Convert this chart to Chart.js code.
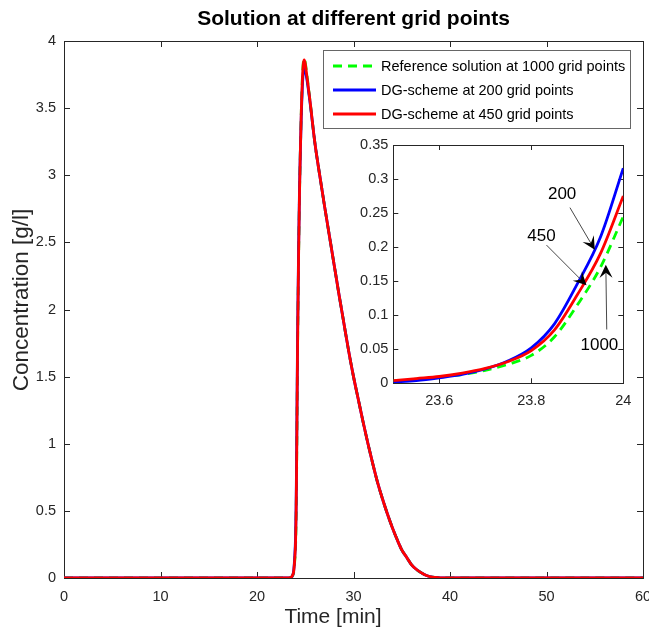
<!DOCTYPE html>
<html>
<head>
<meta charset="utf-8">
<script src="https://cdn.jsdelivr.net/npm/chart.js@4.4.1/dist/chart.umd.min.js"></script>
<style>
  html, body { margin: 0; padding: 0; background: #fff; }
  #wrap { position: relative; width: 649px; height: 627px; }
  #main { position: absolute; left: 0; top: 0; }
  #inset { position: absolute; left: 345px; top: 130px; }
</style>
</head>
<body>
<div id="wrap">
  <canvas id="main" width="649" height="627"></canvas>
  <canvas id="inset" width="290" height="290"></canvas>
</div>
<script>
// ---- data ----
var mainTime = [0, 23, 23.5, 23.6, 23.7, 23.8, 23.9, 24.0, 24.05, 24.1, 24.15, 24.2, 24.3, 24.4, 24.5,
    24.6, 24.7, 24.8, 24.9, 25.0, 25.2, 25.5,
    26.0, 26.5, 27.0, 27.5, 28.0, 28.5, 29.0, 29.5, 30.0,
    30.5, 31.0, 31.5, 32.0, 32.5, 33.0, 33.5, 34.0, 34.5, 35.0,
    35.5, 36.0, 36.5, 37.0, 37.5, 38.0, 38.5, 39.0, 40, 60];

var ref1000 = [0, 0, 0.003, 0.009, 0.019, 0.041, 0.115, 0.245, 0.43, 0.75, 1.2, 1.65, 2.32, 2.83, 3.2,
    3.5, 3.72, 3.84, 3.87, 3.84, 3.73, 3.55,
    3.24, 3.00, 2.77, 2.55, 2.33, 2.11, 1.90, 1.69, 1.50,
    1.33, 1.16, 1.00, 0.85, 0.71, 0.59, 0.48, 0.38, 0.29, 0.21,
    0.155, 0.10, 0.065, 0.04, 0.02, 0.009, 0.004, 0.001, 0, 0];

var dg200 = [0, 0, 0.002, 0.008, 0.021, 0.052, 0.146, 0.316, 0.52, 0.87, 1.32, 1.77, 2.4, 2.88, 3.2,
    3.47, 3.66, 3.77, 3.80, 3.78, 3.70, 3.54,
    3.24, 3.00, 2.77, 2.55, 2.33, 2.11, 1.90, 1.69, 1.50,
    1.33, 1.16, 1.00, 0.85, 0.71, 0.59, 0.48, 0.38, 0.29, 0.21,
    0.155, 0.10, 0.065, 0.04, 0.02, 0.009, 0.004, 0.001, 0, 0];

var dg450 = [0, 0, 0.004, 0.010, 0.022, 0.048, 0.130, 0.275, 0.47, 0.8, 1.25, 1.7, 2.35, 2.85, 3.2,
    3.5, 3.71, 3.83, 3.86, 3.83, 3.72, 3.55,
    3.24, 3.00, 2.77, 2.55, 2.33, 2.11, 1.90, 1.69, 1.50,
    1.33, 1.16, 1.00, 0.85, 0.71, 0.59, 0.48, 0.38, 0.29, 0.21,
    0.155, 0.10, 0.065, 0.04, 0.02, 0.009, 0.004, 0.001, 0, 0];

var zoomTime = [23.5, 23.55, 23.6, 23.65, 23.7, 23.75, 23.8, 23.85, 23.9, 23.95, 24.0];
var zoomRef1000 = [0.003, 0.006, 0.009, 0.013, 0.019, 0.028, 0.041, 0.068, 0.115, 0.170, 0.245];
var zoomDg200 = [0.002, 0.004, 0.008, 0.013, 0.021, 0.033, 0.052, 0.087, 0.146, 0.214, 0.316];
var zoomDg450 = [0.004, 0.007, 0.010, 0.015, 0.022, 0.032, 0.048, 0.078, 0.130, 0.190, 0.275];

var seriesLabels = ['Reference solution at 1000 grid points', 'DG-scheme at 200 grid points', 'DG-scheme at 450 grid points'];

var mainXTicks = [0, 10, 20, 30, 40, 50, 60];
var mainYTicks = [0, 0.5, 1, 1.5, 2, 2.5, 3, 3.5, 4];
var zoomXTicks = [23.6, 23.8, 24];
var zoomYTicks = [0, 0.05, 0.1, 0.15, 0.2, 0.25, 0.3, 0.35];

// annotation arrows in the inset, in data units
var arrowLabels = ['200', '450', '1000'];
var arrowTail = [[23.884, 0.258], [23.833, 0.203], [23.964, 0.079]];
var arrowHead = [[23.938, 0.196], [23.920, 0.144], [23.962, 0.174]];
var arrowText = [[23.867, 0.277], [23.822, 0.216], [23.948, 0.056]];

var FONT = '"Liberation Sans", Arial, Helvetica, sans-serif';
var AXIS = '#262626';

Chart.defaults.font.family = FONT;
Chart.defaults.color = AXIS;

function toPoints(xs, ys) {
    return xs.map(function (x, i) { return {x: x, y: ys[i]}; });
}

function makeDatasets(xs, a, b, c) {
    return [{
        label: seriesLabels[0], data: toPoints(xs, a), borderColor: '#00ff00',
        borderWidth: 2.8, borderDash: [9, 6], order: 3
    }, {
        label: seriesLabels[1], data: toPoints(xs, b), borderColor: '#0000ff',
        borderWidth: 2.8, order: 2
    }, {
        label: seriesLabels[2], data: toPoints(xs, c), borderColor: '#ff0000',
        borderWidth: 2.8, order: 1
    }];
}

function fixedTicks(values) {
    return function (scale) {
        scale.ticks = values.map(function (v) { return {value: v}; });
    };
}

// MATLAB-like box with inward ticks on all four sides
function boxPlugin(len, whiteFill) {
    return {
        id: 'box',
        beforeDatasetsDraw: function (chart) {
            var ctx = chart.ctx, a = chart.chartArea;
            var x = chart.scales.x, y = chart.scales.y;
            ctx.save();
            if (whiteFill) {
                ctx.fillStyle = '#fff';
                ctx.fillRect(a.left, a.top, a.right - a.left, a.bottom - a.top);
            }
            ctx.strokeStyle = AXIS;
            ctx.lineWidth = 1;
            ctx.beginPath();
            x.ticks.forEach(function (t) {
                var px = Math.round(x.getPixelForValue(t.value)) + 0.5;
                ctx.moveTo(px, a.bottom); ctx.lineTo(px, a.bottom - len);
                ctx.moveTo(px, a.top); ctx.lineTo(px, a.top + len);
            });
            y.ticks.forEach(function (t) {
                var py = Math.round(y.getPixelForValue(t.value)) + 0.5;
                ctx.moveTo(a.left, py); ctx.lineTo(a.left + len, py);
                ctx.moveTo(a.right, py); ctx.lineTo(a.right - len, py);
            });
            ctx.stroke();
            ctx.strokeRect(Math.round(a.left) + 0.5, Math.round(a.top) + 0.5,
                Math.round(a.right - a.left), Math.round(a.bottom - a.top));
            ctx.restore();
        }
    };
}

function titleAndLegendPlugin() {
    return {
        id: 'titleLegend',
        afterDraw: function (chart) {
            var ctx = chart.ctx, a = chart.chartArea;
            ctx.save();
            ctx.fillStyle = '#000';
            ctx.font = 'bold 21px ' + FONT;
            ctx.textAlign = 'center';
            ctx.textBaseline = 'middle';
            ctx.fillText('Solution at different grid points', (a.left + a.right) / 2, 19);

            // axis labels (placed as in the figure, slightly off-centre)
            ctx.fillStyle = AXIS;
            ctx.font = '21px ' + FONT;
            ctx.fillText('Time [min]', 333, 617);
            ctx.save();
            ctx.translate(22, 300);
            ctx.rotate(-Math.PI / 2);
            ctx.font = '22.5px ' + FONT;
            ctx.fillText('Concentration [g/l]', 0, 0);
            ctx.restore();

            // legend box
            ctx.fillStyle = '#fff';
            ctx.fillRect(323, 50, 307, 78);
            ctx.strokeStyle = '#666';
            ctx.lineWidth = 1;
            ctx.strokeRect(323.5, 50.5, 307, 78);

            ctx.font = '14.5px ' + FONT;
            ctx.textAlign = 'left';
            chart.data.datasets.forEach(function (ds, i) {
                var ly = 66 + i * 24;
                ctx.beginPath();
                ctx.strokeStyle = ds.borderColor;
                ctx.lineWidth = ds.borderWidth;
                ctx.setLineDash(ds.borderDash || []);
                ctx.moveTo(333, ly);
                ctx.lineTo(376, ly);
                ctx.stroke();
                ctx.setLineDash([]);
                ctx.fillStyle = '#000';
                ctx.fillText(ds.label, 381, ly + 1);
            });
            ctx.restore();
        }
    };
}

function arrowPlugin() {
    return {
        id: 'arrows',
        afterDatasetsDraw: function (chart) {
            var ctx = chart.ctx, x = chart.scales.x, y = chart.scales.y;
            ctx.save();
            arrowLabels.forEach(function (txt, i) {
                var x0 = x.getPixelForValue(arrowTail[i][0]), y0 = y.getPixelForValue(arrowTail[i][1]);
                var x1 = x.getPixelForValue(arrowHead[i][0]), y1 = y.getPixelForValue(arrowHead[i][1]);
                var ang = Math.atan2(y1 - y0, x1 - x0);
                var cos = Math.cos(ang), sin = Math.sin(ang);
                var L = 13, W = 6.5;
                ctx.strokeStyle = '#333';
                ctx.lineWidth = 0.9;
                ctx.beginPath();
                ctx.moveTo(x0, y0);
                ctx.lineTo(x1 - cos * L * 0.6, y1 - sin * L * 0.6);
                ctx.stroke();

                ctx.fillStyle = '#000';
                ctx.beginPath();
                ctx.moveTo(x1, y1);
                ctx.lineTo(x1 - cos * L - sin * W, y1 - sin * L + cos * W);
                ctx.lineTo(x1 - cos * L * 0.6, y1 - sin * L * 0.6);
                ctx.lineTo(x1 - cos * L + sin * W, y1 - sin * L - cos * W);
                ctx.closePath();
                ctx.fill();

                ctx.font = '17px ' + FONT;
                ctx.textAlign = 'center';
                ctx.textBaseline = 'middle';
                ctx.fillText(txt, x.getPixelForValue(arrowText[i][0]), y.getPixelForValue(arrowText[i][1]));
            });
            ctx.restore();
        }
    };
}

var label = function (v) { return String(v); };

new Chart(document.getElementById('main'), {
    type: 'line',
    data: {datasets: makeDatasets(mainTime, ref1000, dg200, dg450)},
    options: {
        responsive: false,
        animation: false,
        layout: {padding: {top: 41, right: 6, left: 0, bottom: 0}},
        elements: {point: {radius: 0}, line: {cubicInterpolationMode: 'monotone'}},
        plugins: {legend: {display: false}, tooltip: {enabled: false}, title: {display: false}},
        scales: {
            x: {
                type: 'linear', min: 0, max: 60,
                afterBuildTicks: fixedTicks(mainXTicks),
                afterFit: function (s) { s.height = 49; s.paddingLeft = 0; s.paddingRight = 0; },
                grid: {display: false, drawTicks: false, tickLength: 0},
                border: {display: false},
                ticks: {padding: 10, font: {size: 14.5}, color: AXIS, callback: label, maxRotation: 0}
            },
            y: {
                type: 'linear', min: 0, max: 4,
                afterBuildTicks: fixedTicks(mainYTicks),
                afterFit: function (s) { s.width = 64; s.paddingTop = 0; s.paddingBottom = 0; },
                grid: {display: false, drawTicks: false, tickLength: 0},
                border: {display: false},
                ticks: {padding: 8, font: {size: 14.5}, color: AXIS, callback: label}
            }
        }
    },
    plugins: [boxPlugin(6, false), titleAndLegendPlugin()]
});

new Chart(document.getElementById('inset'), {
    type: 'line',
    data: {datasets: makeDatasets(zoomTime, zoomRef1000, zoomDg200, zoomDg450)},
    options: {
        responsive: false,
        animation: false,
        layout: {padding: {top: 15, right: 11.7, left: 0, bottom: 0}},
        elements: {point: {radius: 0}, line: {cubicInterpolationMode: 'monotone'}},
        plugins: {legend: {display: false}, tooltip: {enabled: false}},
        scales: {
            x: {
                type: 'linear', min: 23.5, max: 24,
                afterBuildTicks: fixedTicks(zoomXTicks),
                afterFit: function (s) { s.height = 36.7; s.paddingLeft = 0; s.paddingRight = 0; },
                grid: {display: false, drawTicks: false, tickLength: 0},
                border: {display: false},
                ticks: {padding: 9, font: {size: 14.5}, color: AXIS, callback: label, maxRotation: 0}
            },
            y: {
                type: 'linear', min: 0, max: 0.35,
                afterBuildTicks: fixedTicks(zoomYTicks),
                afterFit: function (s) { s.width = 48.3; s.paddingTop = 0; s.paddingBottom = 0; },
                grid: {display: false, drawTicks: false, tickLength: 0},
                border: {display: false},
                ticks: {padding: 5, font: {size: 14.5}, color: AXIS, callback: label}
            }
        }
    },
    plugins: [boxPlugin(5, true), arrowPlugin()]
});
</script>
</body>
</html>
